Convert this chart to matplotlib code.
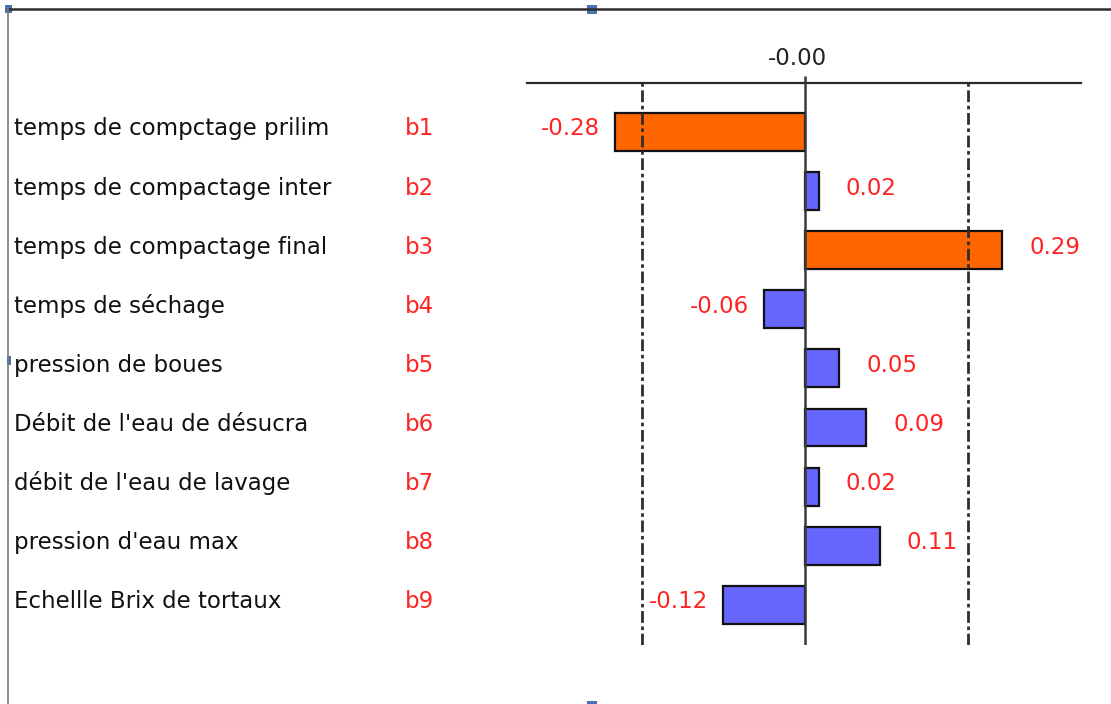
import matplotlib
matplotlib.use("Agg")
import matplotlib.pyplot as plt
from matplotlib import transforms
from matplotlib.lines import Line2D
from matplotlib.patches import Rectangle

# Factor names, coefficient codes and estimated effects
factors = [
    "temps de compctage prilim",
    "temps de compactage inter",
    "temps de compactage final",
    "temps de séchage",
    "pression de boues",
    "Débit de l'eau de désucra",
    "débit de l'eau de lavage",
    "pression d'eau max",
    "Echellle Brix de tortaux",
]
codes = ["b1", "b2", "b3", "b4", "b5", "b6", "b7", "b8", "b9"]
effects = [-0.28, 0.02, 0.29, -0.06, 0.05, 0.09, 0.02, 0.11, -0.12]
limit = 0.24          # significance limit (dash-dot lines)
zero_label = "-0.00"

W, H = 1111, 704
plt.rcParams["font.family"] = ["DejaVu Sans"]
plt.rcParams["lines.scale_dashes"] = False
FS = 16.5
RED = "#ff2424"
INK = "#111111"

fig = plt.figure(figsize=(W / 100, H / 100), dpi=100)
fig.patch.set_facecolor("white")

# plotting area in pixels: x 527..1081, y 83..645 (from top)
px_per_unit = 680.0
x0_px, x1_px, zero_px = 527, 1081, 805
top_px, bot_px = 83, 645
row0_px, row_step = 132, 59.1

ax = fig.add_axes([x0_px / W, 1 - bot_px / H, (x1_px - x0_px) / W, (bot_px - top_px) / H])
ax.set_xlim((x0_px - zero_px) / px_per_unit, (x1_px - zero_px) / px_per_unit)
ax.set_ylim((bot_px - row0_px) / row_step, (top_px - row0_px) / row_step)
ax.set_facecolor("none")

for side in ("bottom", "left", "right"):
    ax.spines[side].set_visible(False)
ax.spines["top"].set_linewidth(1.6)
ax.spines["top"].set_color("#2a2a2a")
ax.xaxis.tick_top()
ax.set_xticks([0])
ax.set_xticklabels([])
ax.tick_params(axis="x", length=5, width=1.8, color="#333333")
ax.set_yticks([])

rows = list(range(len(effects)))
colors = ["#ff6600" if abs(v) > limit else "#6666ff" for v in effects]
ax.barh(rows, effects, height=0.64, color=colors, edgecolor="#111111",
        linewidth=1.6, zorder=2)

ax.axvline(0, color="#3a3a3a", lw=1.8, zorder=3)
for lim in (-limit, limit):
    ax.axvline(lim, color="#2e2e2e", lw=2.0, dashes=(8.5, 2.6, 2.6, 2.6), zorder=3)

# factor names and codes on the left
label_tr = transforms.offset_copy(
    transforms.blended_transform_factory(fig.transFigure, ax.transData),
    fig=fig, y=-3.5, units="dots")
for i, (name, code) in enumerate(zip(factors, codes)):
    fig.text(14 / W, i, name, transform=label_tr, ha="left", va="baseline",
             fontsize=FS, color=INK)
    fig.text(405 / W, i, code, transform=label_tr, ha="left", va="baseline",
             fontsize=FS, color=RED)

# value labels next to each bar
for i, v in enumerate(effects):
    if v >= 0:
        ax.annotate(f"{v:.2f}", xy=(v, i), xytext=(27, -3.5), textcoords="offset pixels",
                    ha="left", va="baseline", fontsize=FS, color=RED)
    else:
        ax.annotate(f"{v:.2f}", xy=(v, i), xytext=(-15, -3.5), textcoords="offset pixels",
                    ha="right", va="baseline", fontsize=FS, color=RED)

ax.annotate(zero_label, xy=(0, 1), xycoords=("data", "axes fraction"),
            xytext=(-8, 18), textcoords="offset pixels", ha="center", va="baseline",
            fontsize=FS, color="#222222", annotation_clip=False)

# window frame and selection handles
fig.add_artist(Line2D([8 / W, 1], [1 - 9 / H] * 2, transform=fig.transFigure,
                      color="#2e2e2e", lw=1.8))
fig.add_artist(Line2D([8 / W] * 2, [0, 1 - 8 / H], transform=fig.transFigure,
                      color="#7a7a7a", lw=1.2))
for (hx, hy, hw, hh) in [(5, 5, 7, 8), (587, 5, 10, 9), (7, 356, 4, 9), (587, 701, 10, 3)]:
    fig.add_artist(Rectangle((hx / W, 1 - (hy + hh) / H), hw / W, hh / H,
                             transform=fig.transFigure, color="#4a72b0", lw=0))

fig.savefig("out.png", dpi=100, facecolor="white")
